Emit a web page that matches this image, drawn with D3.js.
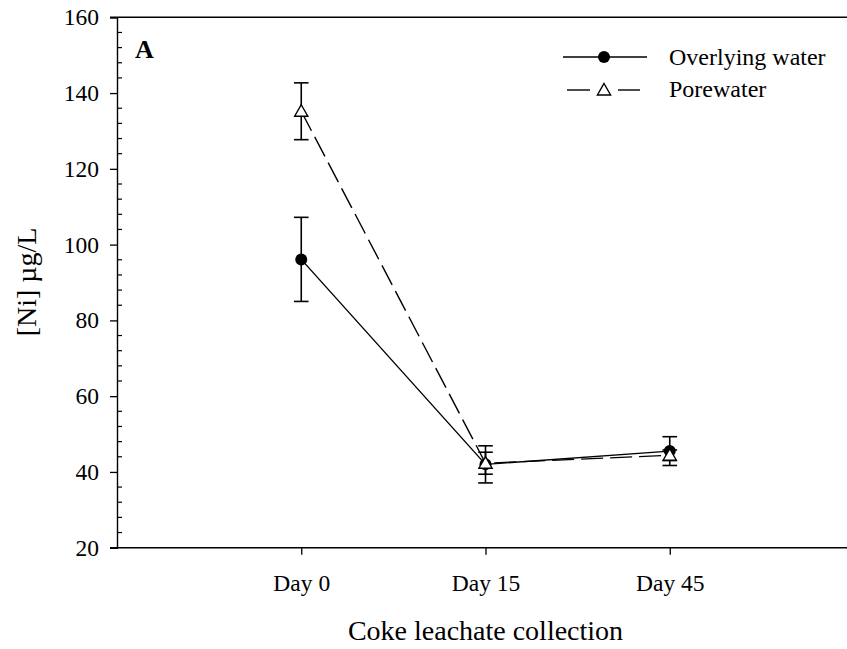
<!DOCTYPE html>
<html>
<head>
<meta charset="utf-8">
<script src="https://cdn.jsdelivr.net/npm/d3@7"></script>
<style>
  html, body { margin: 0; padding: 0; background: #fff; }
  svg { display: block; }
  svg text { font-family: "Liberation Serif", "Times New Roman", Times, serif; }
</style>
</head>
<body>
<svg id="chart" width="847" height="649"></svg>
<script>
// ---- data ----
const categories = ["Day 0", "Day 15", "Day 45"];
const overlying = [96.1, 42.0, 45.5];
const overlyingErr = [11.1, 4.9, 3.8];
const porewater = [135.2, 42.3, 44.4];
const porewaterErr = [7.5, 2.9, 1.4];
const yTicks = [20, 40, 60, 80, 100, 120, 140, 160];
const seriesNames = ["Overlying water", "Porewater"];

// ---- layout ----
const svg = d3.select("#chart");
const plotLeft = 117, plotTop = 17.3, plotBottom = 547.7, plotRightFull = 854;
const serif = "'Liberation Serif', 'Times New Roman', Times, serif";

const x = d3.scaleLinear().domain([0, 4]).range([plotLeft, plotRightFull]);
const y = d3.scaleLinear().domain([20, 160]).range([plotBottom, plotTop]);

const ink = "#000";

// top border line
svg.append("line").attr("x1", plotLeft - 7).attr("x2", 847)
  .attr("y1", y(160)).attr("y2", y(160))
  .attr("stroke", ink).attr("stroke-width", 1.4);

// y axis (major ticks outward)
const yAxis = d3.axisLeft(y).tickValues(yTicks).tickSize(7).tickPadding(11)
  .tickFormat(d3.format("d"));
const gy = svg.append("g").attr("transform", `translate(${plotLeft},0)`).call(yAxis)
  .attr("font-family", serif);
gy.select(".domain").attr("stroke", ink).attr("stroke-width", 1.4);
gy.selectAll(".tick line").attr("stroke", ink).attr("stroke-width", 1.3);
gy.selectAll(".tick text").attr("font-size", 23.5).attr("fill", ink)
  .attr("font-family", serif);

// y minor ticks (inward)
const minor = d3.range(20, 160, 4).filter(v => v % 20 !== 0);
svg.append("g").selectAll("line").data(minor).join("line")
  .attr("x1", plotLeft).attr("x2", plotLeft + 5)
  .attr("y1", d => y(d)).attr("y2", d => y(d))
  .attr("stroke", ink).attr("stroke-width", 1.2);

// x axis
const xAxis = d3.axisBottom(x).tickValues([1, 2, 3]).tickSize(7).tickPadding(20)
  .tickFormat((d, i) => categories[i]);
const gx = svg.append("g").attr("transform", `translate(0,${plotBottom})`).call(xAxis)
  .attr("font-family", serif);
gx.select(".domain").remove();
gx.selectAll(".tick line").attr("stroke", ink).attr("stroke-width", 1.3);
gx.selectAll(".tick text").attr("font-size", 23.5).attr("fill", ink)
  .attr("font-family", serif);
svg.append("line").attr("x1", plotLeft - 7).attr("x2", 847)
  .attr("y1", plotBottom).attr("y2", plotBottom)
  .attr("stroke", ink).attr("stroke-width", 1.4);

// axis titles
svg.append("text").attr("x", x(2)).attr("y", 640).attr("text-anchor", "middle")
  .attr("font-family", serif).attr("font-size", 28).attr("fill", ink)
  .text("Coke leachate collection");
svg.append("text").attr("transform", `translate(36,282) rotate(-90)`)
  .attr("text-anchor", "middle").attr("font-family", serif).attr("font-size", 28).attr("fill", ink)
  .text("[Ni] µg/L");

// panel letter
svg.append("text").attr("x", 135).attr("y", 58).attr("font-size", 26)
  .attr("font-family", serif).attr("font-weight", "bold").attr("fill", ink).text("A");

// ---- series ----
const xs = [1, 2, 3];
const line = d3.line().x((d, i) => x(xs[i])).y(d => y(d));
const capW = 7.3;

function errorBars(vals, errs) {
  const g = svg.append("g").attr("stroke", ink).attr("stroke-width", 1.6);
  vals.forEach((v, i) => {
    const cx = x(xs[i]);
    g.append("line").attr("x1", cx).attr("x2", cx).attr("y1", y(v + errs[i])).attr("y2", y(v - errs[i]));
    g.append("line").attr("x1", cx - capW).attr("x2", cx + capW).attr("y1", y(v + errs[i])).attr("y2", y(v + errs[i]));
    g.append("line").attr("x1", cx - capW).attr("x2", cx + capW).attr("y1", y(v - errs[i])).attr("y2", y(v - errs[i]));
  });
}

const triPath = "M0,-6.5L6.6,5L-6.6,5Z";

// overlying water
errorBars(overlying, overlyingErr);
svg.append("path").datum(overlying).attr("d", line)
  .attr("fill", "none").attr("stroke", ink).attr("stroke-width", 1.4);
svg.append("g").selectAll("circle").data(overlying).join("circle")
  .attr("cx", (d, i) => x(xs[i])).attr("cy", d => y(d)).attr("r", 6).attr("fill", ink);

// porewater
errorBars(porewater, porewaterErr);
svg.append("path").datum(porewater).attr("d", line)
  .attr("fill", "none").attr("stroke", ink).attr("stroke-width", 1.4)
  .attr("stroke-dasharray", "22,7");
svg.append("g").selectAll("path").data(porewater).join("path")
  .attr("transform", (d, i) => `translate(${x(xs[i])},${y(d)})`)
  .attr("d", triPath).attr("fill", "#fff").attr("stroke", ink).attr("stroke-width", 1.4);

// ---- legend ----
const lg = svg.append("g");
lg.append("line").attr("x1", 563).attr("x2", 647).attr("y1", 57).attr("y2", 57)
  .attr("stroke", ink).attr("stroke-width", 1.4);
lg.append("circle").attr("cx", 604).attr("cy", 57).attr("r", 6).attr("fill", ink);
lg.append("text").attr("x", 669).attr("y", 65).attr("font-family", serif)
  .attr("font-size", 24).attr("fill", ink).text(seriesNames[0]);

[[567, 590], [618, 640]].forEach(([a, b]) => {
  lg.append("line").attr("x1", a).attr("x2", b).attr("y1", 90).attr("y2", 90)
    .attr("stroke", ink).attr("stroke-width", 1.4);
});
lg.append("path").attr("transform", "translate(604,90)").attr("d", triPath)
  .attr("fill", "#fff").attr("stroke", ink).attr("stroke-width", 1.4);
lg.append("text").attr("x", 669).attr("y", 97).attr("font-family", serif)
  .attr("font-size", 24).attr("fill", ink).text(seriesNames[1]);
</script>
</body>
</html>
